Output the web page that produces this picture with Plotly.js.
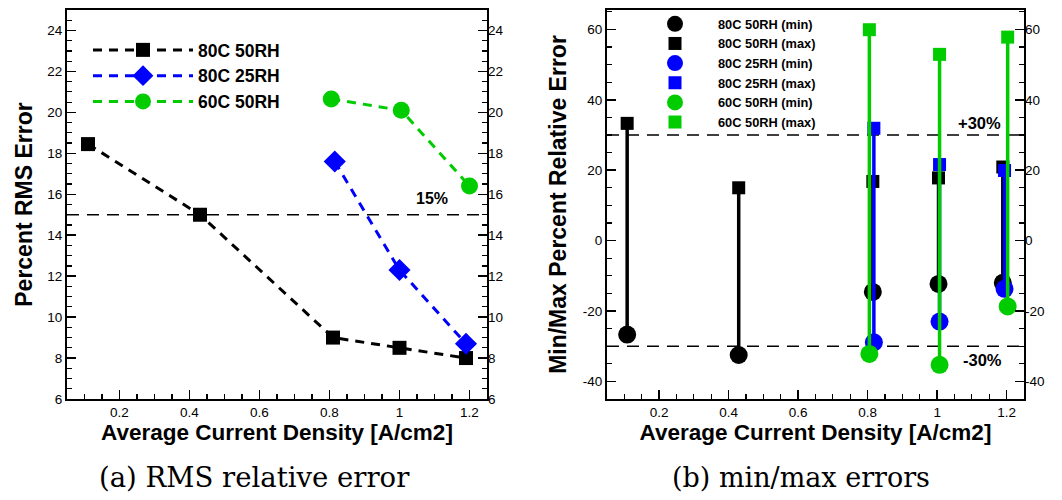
<!DOCTYPE html>
<html><head><meta charset="utf-8">
<script src="https://cdn.plot.ly/plotly-3.0.1.min.js"></script>
<style>html,body{margin:0;padding:0;background:#fff}#chart{width:1062px;height:500px}</style>
</head><body><div id="chart"></div>
<script>
// ---- data ----
const seriesNames = ['80C 50RH', '80C 25RH', '60C 50RH'];
const seriesColors = ['#000000', '#0000ff', '#00cc00'];

// (a) RMS relative error
const rmsX_80C50RH = [0.11, 0.43, 0.81, 1.0, 1.19];
const rmsY_80C50RH = [18.45, 15.0, 9.0, 8.5, 8.0];
const rmsX_80C25RH = [0.815, 1.0, 1.19];
const rmsY_80C25RH = [17.6, 12.3, 8.7];
const rmsX_60C50RH = [0.805, 1.005, 1.2];
const rmsY_60C50RH = [20.65, 20.1, 16.4];
const rmsThreshold = 15;

// (b) min/max errors
const mmX_80C50RH = [0.108, 0.429, 0.815, 1.004, 1.189];
const mmMin_80C50RH = [-26.7, -32.5, -14.6, -12.3, -12.0];
const mmMax_80C50RH = [33.3, 15.0, 16.8, 17.8, 20.9];
const mmX_80C25RH = [0.818, 1.007, 1.194];
const mmMin_80C25RH = [-28.9, -23.0, -13.7];
const mmMax_80C25RH = [31.9, 21.6, 19.9];
const mmX_60C50RH = [0.805, 1.007, 1.203];
const mmMin_60C50RH = [-32.2, -35.3, -18.7];
const mmMax_60C50RH = [59.9, 52.9, 57.8];
const mmThresholds = [30, -30];

const leftYTicks = [6, 8, 10, 12, 14, 16, 18, 20, 22, 24];
const rightYTicks = [-40, -20, 0, 20, 40, 60];
const xTicks = [0.2, 0.4, 0.6, 0.8, 1, 1.2];

// ---- build ----
const FONT = 'Liberation Sans, Arial, sans-serif';
const SERIF = 'DejaVu Serif, Liberation Serif, serif';
const traces = [];

const rmsSets = [
  [rmsX_80C50RH, rmsY_80C50RH, 'square', 14],
  [rmsX_80C25RH, rmsY_80C25RH, 'diamond', 17],
  [rmsX_60C50RH, rmsY_60C50RH, 'circle', 17]
];
rmsSets.forEach((s, i) => {
  traces.push({
    type: 'scatter', mode: 'lines+markers', x: s[0], y: s[1],
    name: seriesNames[i], xaxis: 'x', yaxis: 'y', legend: 'legend',
    line: {color: seriesColors[i], width: 3, dash: '9px,7px'},
    marker: {symbol: s[2], size: s[3], color: seriesColors[i]}
  });
});

const mmSets = [
  [mmX_80C50RH, mmMin_80C50RH, mmMax_80C50RH],
  [mmX_80C25RH, mmMin_80C25RH, mmMax_80C25RH],
  [mmX_60C50RH, mmMin_60C50RH, mmMax_60C50RH]
];
mmSets.forEach((s, i) => {
  const lx = [], ly = [];
  s[0].forEach((xv, k) => { lx.push(xv, xv, null); ly.push(s[1][k], s[2][k], null); });
  traces.push({
    type: 'scatter', mode: 'lines', x: lx, y: ly, xaxis: 'x2', yaxis: 'y2',
    showlegend: false, hoverinfo: 'skip',
    line: {color: seriesColors[i], width: 3.5}
  });
  traces.push({
    type: 'scatter', mode: 'markers', x: s[0], y: s[1], xaxis: 'x2', yaxis: 'y2',
    name: seriesNames[i] + ' (min)', legend: 'legend2',
    marker: {symbol: 'circle', size: 18, color: seriesColors[i]}
  });
  traces.push({
    type: 'scatter', mode: 'markers', x: s[0], y: s[2], xaxis: 'x2', yaxis: 'y2',
    name: seriesNames[i] + ' (max)', legend: 'legend2',
    marker: {symbol: 'square', size: 13, color: seriesColors[i]}
  });
});

// invisible carriers so the mirrored right-hand axes get drawn
traces.push({type: 'scatter', mode: 'markers', x: rmsX_80C50RH, y: rmsY_80C50RH, xaxis: 'x', yaxis: 'y3',
  showlegend: false, hoverinfo: 'skip', marker: {opacity: 0}});
traces.push({type: 'scatter', mode: 'markers', x: mmX_80C50RH, y: mmMax_80C50RH, xaxis: 'x2', yaxis: 'y4',
  showlegend: false, hoverinfo: 'skip', marker: {opacity: 0}});

function xAxis(domain, anchor) {
  return {
    domain: domain, anchor: anchor, range: [0.05, 1.25], automargin: false,
    tickmode: 'array', tickvals: xTicks, ticktext: xTicks.map(String),
    ticks: 'inside', ticklen: 9, tickwidth: 1.5, tickcolor: '#000',
    minor: {dtick: 0.05, tick0: 0, ticks: 'inside', ticklen: 5, tickwidth: 1.2, tickcolor: '#000'},
    showline: true, linecolor: '#000', linewidth: 2, mirror: true,
    showgrid: false, zeroline: false,
    tickfont: {family: FONT, size: 13.5, color: '#000'},
    title: {text: 'Average Current Density [A/cm2]', standoff: 2,
            font: {family: FONT, size: 22.5, color: '#000', weight: 'bold'}}
  };
}
function yAxis(range, ticks, minorStep, anchor, extra) {
  return Object.assign({
    domain: [0, 1], anchor: anchor, range: range, automargin: false,
    tickmode: 'array', tickvals: ticks, ticktext: ticks.map(String),
    ticks: 'inside', ticklen: 9, tickwidth: 1.5, tickcolor: '#000',
    minor: {dtick: minorStep, tick0: 0, ticks: 'inside', ticklen: 5, tickwidth: 1.2, tickcolor: '#000'},
    showline: true, linecolor: '#000', linewidth: 2,
    showgrid: false, zeroline: false,
    tickfont: {family: FONT, size: 13.5, color: '#000'}
  }, extra);
}

const xd1 = [67 / 1062, 487 / 1062];
const xd2 = [607 / 1062, 1024 / 1062];
const leftRange = [6, 25];
const rightRange = [-45, 65.5];

const layout = {
  width: 1062, height: 500,
  margin: {l: 0, r: 0, t: 10, b: 101},
  paper_bgcolor: '#fff', plot_bgcolor: '#fff',
  showlegend: true,
  font: {family: FONT, color: '#000'},
  xaxis: xAxis(xd1, 'y'),
  xaxis2: xAxis(xd2, 'y2'),
  yaxis: yAxis(leftRange, leftYTicks, 0.5, 'x', {mirror: true,
    title: {text: 'Percent RMS Error', standoff: 8,
            font: {family: FONT, size: 23, color: '#000', weight: 'bold'}}}),
  yaxis3: yAxis(leftRange, leftYTicks, 0.5, 'x', {overlaying: 'y', side: 'right', showline: false}),
  yaxis2: yAxis(rightRange, rightYTicks, 5, 'x2', {mirror: true,
    title: {text: 'Min/Max Percent Relative Error', standoff: 10,
            font: {family: FONT, size: 23, color: '#000', weight: 'bold'}}}),
  yaxis4: yAxis(rightRange, rightYTicks, 5, 'x2', {overlaying: 'y2', side: 'right', showline: false}),
  legend: {
    x: 88 / 1062, y: 1 - 22 / 389, xref: 'paper', yref: 'paper', xanchor: 'left', yanchor: 'top',
    bgcolor: 'rgba(0,0,0,0)', itemwidth: 100,
    font: {family: FONT, size: 17.5, color: '#000', weight: 'bold'}
  },
  legend2: {
    x: 632 / 1062, y: 1 + 1 / 389, xref: 'paper', yref: 'paper', xanchor: 'left', yanchor: 'top',
    bgcolor: 'rgba(0,0,0,0)', itemwidth: 76,
    font: {family: FONT, size: 12.8, color: '#000', weight: 'bold'}
  },
  shapes: [
    {type: 'line', xref: 'x domain', yref: 'y', x0: 0, x1: 1, y0: rmsThreshold, y1: rmsThreshold,
     line: {color: '#000', width: 1.5, dash: '12px,8px'}, layer: 'below'}
  ].concat(mmThresholds.map(t => (
    {type: 'line', xref: 'x2 domain', yref: 'y2', x0: 0, x1: 1, y0: t, y1: t,
     line: {color: '#000', width: 1.5, dash: '12px,8px'}, layer: 'below'}))),
  annotations: [
    {xref: 'x', yref: 'y', x: 1.093, y: 15.8, text: rmsThreshold + '%', showarrow: false,
     xanchor: 'center', yanchor: 'middle',
     font: {family: FONT, size: 16, color: '#000', weight: 'bold'}},
    {xref: 'x2', yref: 'y2', x: 1.121, y: 33.3, text: '+' + mmThresholds[0] + '%', showarrow: false,
     xanchor: 'center', yanchor: 'middle',
     font: {family: FONT, size: 16.5, color: '#000', weight: 'bold'}},
    {xref: 'x2', yref: 'y2', x: 1.13, y: -33.9, text: mmThresholds[1] + '%', showarrow: false,
     xanchor: 'center', yanchor: 'middle',
     font: {family: FONT, size: 16.5, color: '#000', weight: 'bold'}},
    {xref: 'paper', yref: 'paper', x: 254 / 1062, y: -(477 - 399) / 389, text: '(a) RMS relative error',
     xanchor: 'center', yanchor: 'middle',
     showarrow: false, font: {family: SERIF, size: 27.5, color: '#000'}},
    {xref: 'paper', yref: 'paper', x: 801 / 1062, y: -(477 - 399) / 389, text: '(b) min/max errors',
     xanchor: 'center', yanchor: 'middle',
     showarrow: false, font: {family: SERIF, size: 27, color: '#000'}}
  ]
};

Plotly.newPlot('chart', traces, layout, {displayModeBar: false, staticPlot: true});
</script>
</body></html>
